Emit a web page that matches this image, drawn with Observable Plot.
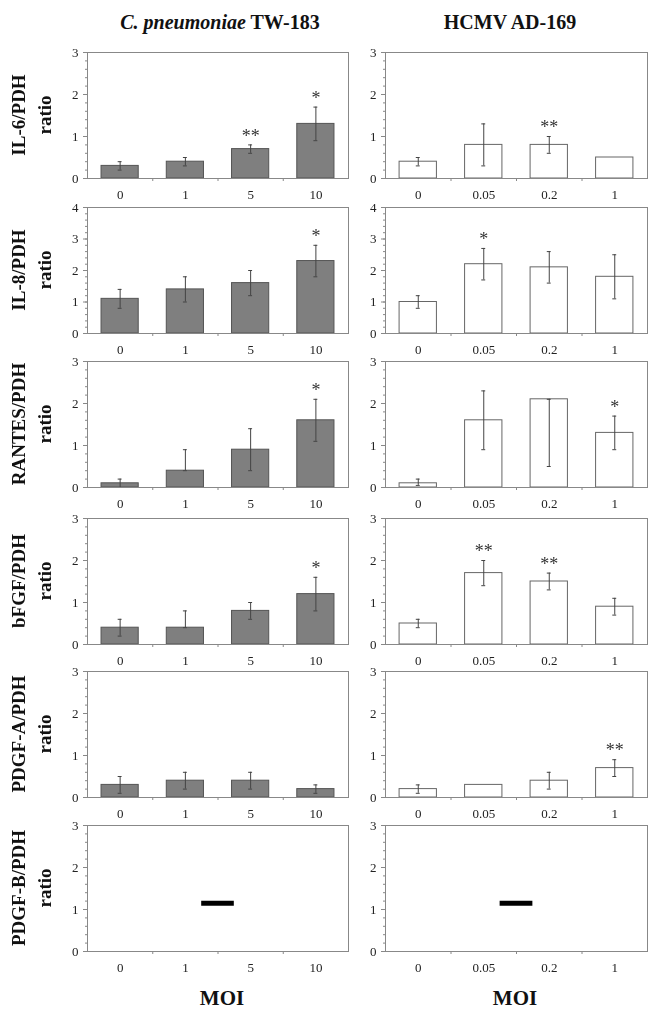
<!DOCTYPE html>
<html><head><meta charset="utf-8">
<script src="https://cdn.jsdelivr.net/npm/d3@7"></script>
<script src="https://cdn.jsdelivr.net/npm/@observablehq/plot@0.6"></script>
<style>
body{margin:0;background:#fff;}
#fig{position:relative;width:659px;height:1013px;font-family:"Liberation Serif","Times New Roman",serif;color:#111;overflow:hidden;}
.title{position:absolute;font-weight:bold;font-size:20px;white-space:nowrap;transform:translate(-50%,-50%);}
.ylab{position:absolute;width:170px;height:52px;line-height:26px;text-align:center;font-weight:bold;font-size:19px;transform:rotate(-90deg);white-space:nowrap;}
.panel{position:absolute;will-change:transform;-webkit-font-smoothing:antialiased;}
</style></head><body><div id="fig"></div>
<script>
// ---------- data ----------
const cpnCategories = ["0", "1", "5", "10"];
const hcmvCategories = ["0", "0.05", "0.2", "1"];
const markers = ["IL-6", "IL-8", "RANTES", "bFGF", "PDGF-A", "PDGF-B"];
const yMax = [3, 4, 3, 3, 3, 3];

// C. pneumoniae TW-183
const cpnIL6Mean = [0.3, 0.4, 0.7, 1.3];
const cpnIL6Lo   = [0.2, 0.3, 0.6, 0.9];
const cpnIL6Hi   = [0.4, 0.5, 0.8, 1.7];
const cpnIL6Sig  = ["", "", "**", "*"];

const cpnIL8Mean = [1.1, 1.4, 1.6, 2.3];
const cpnIL8Lo   = [0.8, 1.0, 1.2, 1.8];
const cpnIL8Hi   = [1.4, 1.8, 2.0, 2.8];
const cpnIL8Sig  = ["", "", "", "*"];

const cpnRANTESMean = [0.1, 0.4, 0.9, 1.6];
const cpnRANTESLo   = [0.0, 0.4, 0.4, 1.1];
const cpnRANTESHi   = [0.2, 0.9, 1.4, 2.1];
const cpnRANTESSig  = ["", "", "", "*"];

const cpnBFGFMean = [0.4, 0.4, 0.8, 1.2];
const cpnBFGFLo   = [0.2, 0.4, 0.6, 0.8];
const cpnBFGFHi   = [0.6, 0.8, 1.0, 1.6];
const cpnBFGFSig  = ["", "", "", "*"];

const cpnPDGFAMean = [0.3, 0.4, 0.4, 0.2];
const cpnPDGFALo   = [0.1, 0.2, 0.2, 0.1];
const cpnPDGFAHi   = [0.5, 0.6, 0.6, 0.3];
const cpnPDGFASig  = ["", "", "", ""];

// HCMV AD-169
const hcmvIL6Mean = [0.4, 0.8, 0.8, 0.5];
const hcmvIL6Lo   = [0.3, 0.3, 0.6, null];
const hcmvIL6Hi   = [0.5, 1.3, 1.0, null];
const hcmvIL6Sig  = ["", "", "**", ""];

const hcmvIL8Mean = [1.0, 2.2, 2.1, 1.8];
const hcmvIL8Lo   = [0.8, 1.7, 1.6, 1.1];
const hcmvIL8Hi   = [1.2, 2.7, 2.6, 2.5];
const hcmvIL8Sig  = ["", "*", "", ""];

const hcmvRANTESMean = [0.1, 1.6, 2.1, 1.3];
const hcmvRANTESLo   = [0.05, 0.9, 0.5, 0.9];
const hcmvRANTESHi   = [0.2, 2.3, 2.1, 1.7];
const hcmvRANTESSig  = ["", "", "", "*"];

const hcmvBFGFMean = [0.5, 1.7, 1.5, 0.9];
const hcmvBFGFLo   = [0.4, 1.4, 1.3, 0.7];
const hcmvBFGFHi   = [0.6, 2.0, 1.7, 1.1];
const hcmvBFGFSig  = ["", "**", "**", ""];

const hcmvPDGFAMean = [0.2, 0.3, 0.4, 0.7];
const hcmvPDGFALo   = [0.1, null, 0.2, 0.5];
const hcmvPDGFAHi   = [0.3, null, 0.6, 0.9];
const hcmvPDGFASig  = ["", "", "", "**"];

// PDGF-B: not quantified, single dash marker between 2nd and 3rd MOI
const pdgfbLevel = 1.15;
const pdgfbBetween = [1, 2];

// ---------- assemble ----------
const cpnSeries = [
  {mean: cpnIL6Mean, lo: cpnIL6Lo, hi: cpnIL6Hi, sig: cpnIL6Sig},
  {mean: cpnIL8Mean, lo: cpnIL8Lo, hi: cpnIL8Hi, sig: cpnIL8Sig},
  {mean: cpnRANTESMean, lo: cpnRANTESLo, hi: cpnRANTESHi, sig: cpnRANTESSig},
  {mean: cpnBFGFMean, lo: cpnBFGFLo, hi: cpnBFGFHi, sig: cpnBFGFSig},
  {mean: cpnPDGFAMean, lo: cpnPDGFALo, hi: cpnPDGFAHi, sig: cpnPDGFASig},
  null
];
const hcmvSeries = [
  {mean: hcmvIL6Mean, lo: hcmvIL6Lo, hi: hcmvIL6Hi, sig: hcmvIL6Sig},
  {mean: hcmvIL8Mean, lo: hcmvIL8Lo, hi: hcmvIL8Hi, sig: hcmvIL8Sig},
  {mean: hcmvRANTESMean, lo: hcmvRANTESLo, hi: hcmvRANTESHi, sig: hcmvRANTESSig},
  {mean: hcmvBFGFMean, lo: hcmvBFGFLo, hi: hcmvBFGFHi, sig: hcmvBFGFSig},
  {mean: hcmvPDGFAMean, lo: hcmvPDGFALo, hi: hcmvPDGFAHi, sig: hcmvPDGFASig},
  null
];

// ---------- layout ----------
const FONT = '"Liberation Serif","Times New Roman",serif';
const rowTops = [52, 207, 361, 518, 671, 825];
const panelH = 126, mTop = 12, mBottom = 26;
const halfBar = 0.285, capHalf = 0.03;
const fig = document.getElementById("fig");

function makePanel(cats, s, ymax, isLeft, dash) {
  const data = cats.map((c, i) => s ? ({i, mean: s.mean[i], lo: s.lo[i], hi: s.hi[i], sig: s.sig[i]}) : null).filter(d => d);
  const errs = data.filter(d => d.lo != null && d.hi != null);
  const stars = data.filter(d => d.sig);
  const fill = isLeft ? "#7f7f7f" : "#ffffff";
  const stroke = isLeft ? "#555" : "#666";
  const marks = [
    Plot.rect(data, {x1: d => d.i - halfBar, x2: d => d.i + halfBar, y1: 0, y2: "mean", fill, stroke, strokeWidth: 1}),
    Plot.ruleX(errs, {x: "i", y1: "lo", y2: "hi", stroke: "#444", strokeWidth: 1}),
    Plot.ruleY(errs, {y: "lo", x1: d => d.i - capHalf, x2: d => d.i + capHalf, stroke: "#444"}),
    Plot.ruleY(errs, {y: "hi", x1: d => d.i - capHalf, x2: d => d.i + capHalf, stroke: "#444"}),
    Plot.text(stars, {x: "i", y: d => d.hi ?? d.mean, text: "sig", dy: -9, fontSize: 18, fill: "#333", fontFamily: FONT}),
    Plot.axisY(d3.range(0, ymax + 1), {tickSize: 4, tickPadding: 5, stroke: "#888", fontSize: 13, label: null}),
    Plot.axisY(d3.range(0, ymax + 1e-6, 0.2), {tickSize: 2, tickFormat: () => "", stroke: "#888", label: null}),
    Plot.axisX(d3.range(cats.length), {tickSize: 0, tickPadding: 11, tickFormat: i => cats[i], fontSize: 13, label: null}),
    Plot.axisX(d3.range(0.5, cats.length - 1), {tickSize: 3, tickFormat: () => "", stroke: "#888", label: null}),
    Plot.frame({stroke: "#888"})
  ];
  if (dash) {
    const mid = (pdgfbBetween[0] + pdgfbBetween[1]) / 2;
    marks.push(Plot.ruleY([pdgfbLevel], {x1: mid - 0.25, x2: mid + 0.25, strokeWidth: 5, stroke: "#000"}));
  }
  return Plot.plot({
    width: isLeft ? 355 : 300,
    height: panelH + mTop + mBottom,
    marginLeft: isLeft ? 87 : 30,
    marginRight: isLeft ? 7 : 8,
    marginTop: mTop,
    marginBottom: mBottom,
    x: {type: "linear", domain: [-0.5, cats.length - 0.5], label: null},
    y: {domain: [0, ymax], label: null},
    style: {fontFamily: FONT, fontSize: "13px", color: "#222", background: "transparent", overflow: "visible"},
    marks
  });
}

markers.forEach((m, r) => {
  const L = makePanel(cpnCategories, cpnSeries[r], yMax[r], true, m === "PDGF-B");
  L.classList.add("panel");
  L.style.left = "0px"; L.style.top = (rowTops[r] - mTop) + "px";
  fig.appendChild(L);
  const R = makePanel(hcmvCategories, hcmvSeries[r], yMax[r], false, m === "PDGF-B");
  R.classList.add("panel");
  R.style.left = "355px"; R.style.top = (rowTops[r] - mTop) + "px";
  fig.appendChild(R);
  const lab = document.createElement("div");
  lab.className = "ylab";
  lab.innerHTML = `<div>${m}/PDH</div><div>ratio</div>`;
  lab.style.left = (32 - 85) + "px";
  lab.style.top = (rowTops[r] + panelH / 2 - 26) + "px";
  fig.appendChild(lab);
});

function addTitle(html, x, y, size) {
  const t = document.createElement("div");
  t.className = "title";
  t.innerHTML = html;
  t.style.left = x + "px"; t.style.top = y + "px";
  if (size) t.style.fontSize = size + "px";
  fig.appendChild(t);
}
addTitle("<i>C. pneumoniae</i> TW-183", 220, 22);
addTitle("HCMV AD-169", 510, 22);
addTitle("MOI", 222, 998, 21);
addTitle("MOI", 515, 998, 21);
</script></body></html>
